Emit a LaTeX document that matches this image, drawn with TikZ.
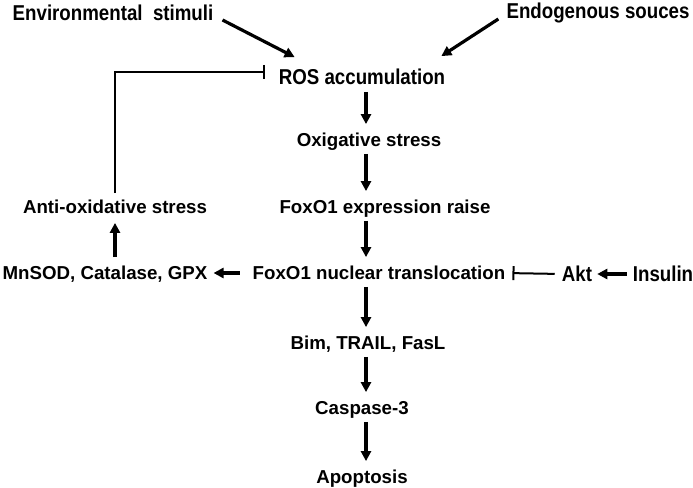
\documentclass[tikz,border=0pt]{standalone}
\usepackage{fontspec}
\setmainfont{Liberation Sans}
\newfontfamily\narrowfont[FakeStretch=0.87]{Liberation Sans}
\usetikzlibrary{arrows.meta,calc}

\begin{document}
\begin{tikzpicture}[x=1pt,y=-1pt,
  lbl/.style={font=\bfseries\fontsize{18.7}{20}\selectfont, inner sep=0pt, text height=13.4pt, text depth=0pt},
  nlbl/.style={font=\narrowfont\bfseries\fontsize{21.5}{23}\selectfont, inner sep=0pt, text height=15.4pt, text depth=0pt},
  arr/.style={line width=3.2pt, -{Triangle[length=10pt,width=10pt]}},
  down/.style={arr, shorten <=7pt, shorten >=9pt},
  inh/.style={line width=2pt, -{Bar[width=14pt]}}]
  \useasboundingbox (0,0) rectangle (693,487);
  \node[nlbl] (env) at (113,13) {Environmental\ \ stimuli};
  \node[nlbl] (endo) at (598,11) {Endogenous souces};
  \node[nlbl] (ros) at (362,77) {ROS accumulation};
  \node[lbl] (ox) at (369,140) {Oxigative stress};
  \node[lbl] (fexp) at (385,207) {FoxO1 expression raise};
  \node[lbl] (nuc) at (379,273) {FoxO1 nuclear translocation};
  \node[lbl] (bim) at (368,343) {Bim, TRAIL, FasL};
  \node[lbl] (casp) at (362,408) {Caspase-3};
  \node[lbl] (apop) at (362,477) {Apoptosis};
  \node[lbl] (anti) at (115,207) {Anti-oxidative stress};
  \node[lbl] (mn) at (105,273) {MnSOD, Catalase, GPX};
  \node[nlbl] (akt) at (577,274) {Akt};
  \node[nlbl] (ins) at (663,274) {Insulin};
  \coordinate (spine) at (366,0);
  \draw[arr] ($(env.east)+(9,7)$) -- ($(ros.north west)+(16,-12)$);
  \draw[arr] ($(endo.west)+(-8,8)$) -- ($(ros.north east)+(-4,-13)$);
  \draw[down] (ros.south -| spine) -- (ox.north -| spine);
  \draw[down] (ox.south -| spine) -- (fexp.north -| spine);
  \draw[down] (fexp.south -| spine) -- (nuc.north -| spine);
  \draw[down] (nuc.south -| spine) -- (bim.north -| spine);
  \draw[down] (bim.south -| spine) -- (casp.north -| spine);
  \draw[down] (casp.south -| spine) -- (apop.north -| spine);
  \draw[arr, shorten <=13pt, shorten >=6pt] (nuc.west) -- (mn.east);
  \draw[arr, shorten <=9pt, shorten >=9pt] (mn.north -| anti.south) -- (anti.south);
  \draw[inh] ([yshift=7pt]anti.north) |- ([xshift=-14pt,yshift=5pt]ros.west);
  \draw[inh, shorten <=7pt, shorten >=7pt] (akt.west) -- (nuc.east);
  \draw[arr, shorten <=6pt, shorten >=5pt] (ins.west) -- (akt.east);
\end{tikzpicture}
\end{document}
